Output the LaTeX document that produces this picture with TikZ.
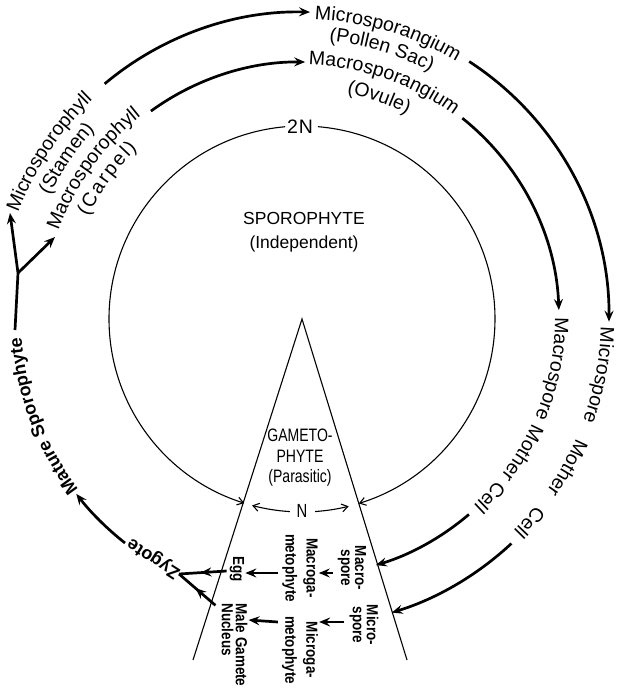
\documentclass[tikz,border=0pt]{standalone}
\usepackage{fontspec}
\setmainfont{Liberation Sans}
\newfontfamily\condfont[FakeStretch=0.78]{Liberation Sans}
\newfontfamily\condbfont[FakeStretch=0.84]{Liberation Sans}
\usetikzlibrary{arrows.meta,calc,decorations.text,decorations.markings}
\newcommand\lblfont{\fontsize{19.5}{22}\selectfont}
\newcommand\lblbold{\bfseries\fontsize{18}{20}\selectfont}
\begin{document}
\begin{tikzpicture}[x=1pt,y=1pt,
  circ/.style={line width=1.1pt},
  fat/.style={line width=2.7pt},
  fattip/.style={-{Stealth[length=11pt,width=9pt,inset=4pt]}},
  thintip/.style={-{Straight Barb[length=6pt,width=8pt]}},
  midtip/.style={postaction={decorate},decoration={markings,
      mark=at position 0.55 with {\arrow{Stealth[length=11pt,width=9pt,inset=4pt]}}}},
  glbl/.style={font=\condbfont\bfseries\fontsize{16}{14}\selectfont, rotate=-90, align=center, inner sep=1pt},
  ctext/.style={decorate, decoration={text along path, text align=center, text={#1}}},
  ftext/.style={decorate, decoration={text along path, text align={fit to path stretching spaces}, text={#1}}},
  wtext/.style={decorate, decoration={text along path, text align={fit to path}, text={#1}}},
]
\useasboundingbox (0,0) rectangle (617,689);
\coordinate (C) at (302,370);

% inner circle (2N)
\draw[circ, thintip] ($(C)+(95:193)$) arc[start angle=95, end angle=252.6, radius=193];
\draw[circ, thintip] ($(C)+(85.3:193)$) arc[start angle=85.3, end angle=-72.9, radius=193];
\draw[circ, thintip] ($(C)+(-93.6:193)$) arc[start angle=-93.6, end angle=-105, radius=193];
\draw[circ, thintip] ($(C)+(-86.1:193)$) arc[start angle=-86.1, end angle=-76, radius=193];
\node[font=\lblfont] (twoN) at (300,562) {2\kern1pt N};
\node[font=\condfont\fontsize{19}{20}\selectfont] (oneN) at (302,178) {N};

% triangle (gametophyte)
\coordinate (apex) at (302,370);
\coordinate (bl) at (193,29);
\coordinate (br) at (407,29);
\draw[circ] (bl) -- (apex) -- (br);

\node[font=\fontsize{17.5}{24}\selectfont, align=center] (spo) at (304,457) {SPOROPHYTE\\(Independent)};
\node[font=\condfont\fontsize{18}{20.5}\selectfont, align=center] (gam) at (300,231) {GAMETO-\\PHYTE\\(Parasitic)};

% outer arcs (micro)
\draw[fat, fattip] ($(C)+(130:307)$) arc[start angle=130, end angle=88.5, radius=307];
\draw[fat, fattip] ($(C)+(57:307)$) arc[start angle=57, end angle=-0.5, radius=307];
\draw[fat, fattip] ($(C)+(-47:307)$) arc[start angle=-47, end angle=-73, radius=307];
% middle arcs (macro)
\draw[fat, fattip] ($(C)+(126:257)$) arc[start angle=126, end angle=89.3, radius=257];
\draw[fat, fattip] ($(C)+(51.4:257)$) arc[start angle=51.4, end angle=2, radius=257];
\draw[fat, fattip] ($(C)+(-49.5:257)$) arc[start angle=-49.5, end angle=-73.3, radius=257];

% curved labels
\path[ctext={|\lblfont|Microsporophyll}] ($(C)+(171.6:303)$) arc[start angle=171.6, end angle=121.6, radius=303];
\path[ctext={|\lblfont|(Stamen)}] ($(C)+(170.7:281)$) arc[start angle=170.7, end angle=120.7, radius=281];
\path[ctext={|\lblfont|Macrosporophyll}] ($(C)+(169.25:259)$) arc[start angle=169.25, end angle=119.25, radius=259];
\path[wtext={|\lblfont|(Carpel)}] ($(C)+(154.5:237)$) arc[start angle=154.5, end angle=134, radius=237];
\path[ctext={|\lblfont|Microsporangium}] ($(C)+(98.3:300)$) arc[start angle=98.3, end angle=48.3, radius=300];
\path[ctext={|\lblfont|(Pollen Sac)}] ($(C)+(98.5:279)$) arc[start angle=98.5, end angle=48.5, radius=279];
\path[ctext={|\lblfont|Macrosporangium}] ($(C)+(95.9:254)$) arc[start angle=95.9, end angle=45.9, radius=254];
\path[ctext={|\lblfont|(Ovule)}] ($(C)+(95.8:230)$) arc[start angle=95.8, end angle=45.8, radius=230];
\path[ftext={|\lblfont|Microspore Mother Cell}] ($(C)+(-1.5:299)$) arc[start angle=-1.5, end angle=-45, radius=299];
\path[ftext={|\lblfont|Macrospore Mother Cell}] ($(C)+(0.4:253)$) arc[start angle=0.4, end angle=-47.3, radius=253];
\path[ctext={|\lblbold|Mature Sporophyte}] ($(C)+(225.6:281)$) arc[start angle=225.6, end angle=175.6, radius=281];

% left branch
\coordinate (ms1) at (15,359);
\coordinate (fork) at (18,416);
\coordinate (mictip) at (10,476);
\coordinate (mactip) at (55,452);
\draw[fat] (ms1) -- (fork);
\draw[fat, fattip] (fork) -- (mictip);
\draw[fat, fattip] (fork) -- (mactip);

% zygote
\node[font=\lblbold, rotate=147.4, inner sep=0pt] (zyg) at (154,131) {Zygote};
\draw[fat, fattip] ($(zyg.east)+(-4,-1)$) arc[start angle=-128.3, end angle=-142.2, radius=286];

% gametophyte contents
\node[glbl] (msp) at (352,121) {Macro-\\spore};
\node[glbl] (mgp) at (300,121) {Macroga-\\[5pt]metophyte};
\node[glbl] (egg) at (237,120) {Egg};
\node[glbl] (misp) at (364,64) {Micro-\\spore};
\node[glbl] (migp) at (300,39) {Microga-\\[5pt]metophyte};
\node[glbl, align=left] (male) at (234.5,44) {Male Gamete\\Nucleus};

\draw[fat, fattip] ($(msp.south)+(-4,-5)$) -- ($(mgp.north)+(0,-5)$);
\draw[fat, fattip] ($(mgp.south)+(-3,-5)$) -- ($(egg.north)+(0,-4)$);
\draw[fat, fattip] ($(misp.south)+(-4,3)$) -- ($(migp.north)+(0,28)$);
\draw[fat, fattip] ($(migp.south)+(-3,28)$) -- ($(male.north)+(0,25)$);
\draw[fat, midtip] ($(egg.south)+(-2,-2)$) -- (zyg.west);
\draw[fat, midtip] ($(male.south west)+(-5,-3)$) -- (zyg.west);
\end{tikzpicture}
\end{document}
